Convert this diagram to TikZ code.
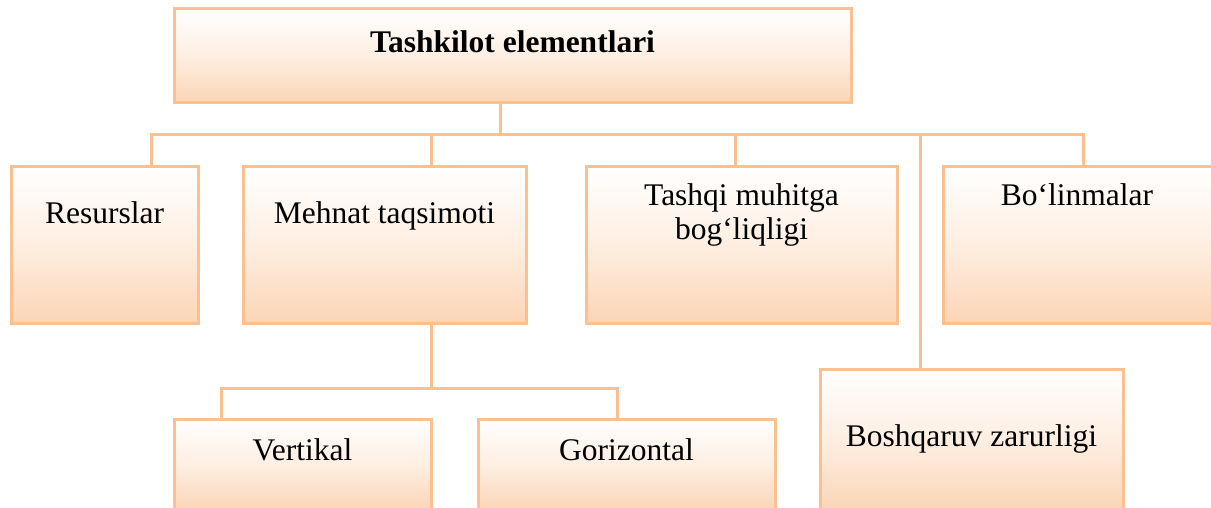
\documentclass[tikz,border=0pt]{standalone}
\usepackage{fontspec}
\setmainfont{Liberation Serif}
\usetikzlibrary{positioning}
\definecolor{peachline}{RGB}{250,192,144}
\definecolor{peachfill}{RGB}{251,213,181}
\tikzset{
  elem/.style={draw=peachline, line width=3pt, rectangle, inner sep=0pt, outer sep=0pt,
    top color=white, bottom color=peachfill, middle color=peachfill!40!white},
  lbl/.style={anchor=base, inner sep=0pt, align=center, font=\fontsize{31.5}{33}\selectfont},
  conn/.style={draw=peachline, line width=3pt}
}

\begin{document}
\begin{tikzpicture}[x=1pt, y=-1pt]
  \useasboundingbox (0,0) rectangle (1211,508);
  % boxes
  \node[elem, minimum width=677, minimum height=94] (title) at (512.5,56) {};
  \node[elem, minimum width=187, minimum height=156] (res) at (104.5,245) {};
  \node[elem, minimum width=283, minimum height=156] (meh) at (384.5,245) {};
  \node[elem, minimum width=311, minimum height=156] (tash) at (741.5,245) {};
  \node[elem, minimum width=270, minimum height=156] (bol) at (1078,245) {};
  \node[elem, minimum width=303, minimum height=142] (bosh) at (971.5,440) {};
  \node[elem, minimum width=257, minimum height=92] (vert) at (302.5,465) {};
  \node[elem, minimum width=297, minimum height=92] (gor) at (626.5,465) {};

  % texts
  \node[lbl, font=\fontsize{31.5}{33}\selectfont\bfseries] (titleT) at (512.5,53) {Tashkilot elementlari};
  \node[lbl] (resT) at (104.5,223) {Resurslar};
  \node[lbl] (mehT) at (384.5,223) {Mehnat taqsimoti};
  \node[lbl] (tashT) at (741.5,239) {Tashqi muhitga\\bog‘liqligi};
  \node[lbl] (bolT) at (1077,206) {Bo‘linmalar};
  \node[lbl] (boshT) at (971.5,446) {Boshqaruv zarurligi};
  \node[lbl] (vertT) at (302.5,460) {Vertikal};
  \node[lbl] (gorT) at (626.5,460) {Gorizontal};

  % connectors
  \coordinate (hub) at (500,135);
  \coordinate (d1) at (151,135);
  \coordinate (d2) at (431,135);
  \coordinate (d3) at (735,135);
  \coordinate (d4) at (920,135);
  \coordinate (d5) at (1083,135);
  \draw[conn] (title.south -| hub) -- (hub);
  \draw[conn] (d1 |- res.north) -- (d1) -- (d5) -- (d5 |- bol.north);
  \draw[conn] (d2) -- (d2 |- meh.north);
  \draw[conn] (d3) -- (d3 |- tash.north);
  \draw[conn] (d4) -- (d4 |- bosh.north);
  \coordinate (sub) at (431,388);
  \coordinate (s1) at (221,388);
  \coordinate (s2) at (617,388);
  \draw[conn] (meh.south -| sub) -- (sub);
  \draw[conn] (s1 |- vert.north) -- (s1) -- (s2) -- (s2 |- gor.north);
\end{tikzpicture}
\end{document}
